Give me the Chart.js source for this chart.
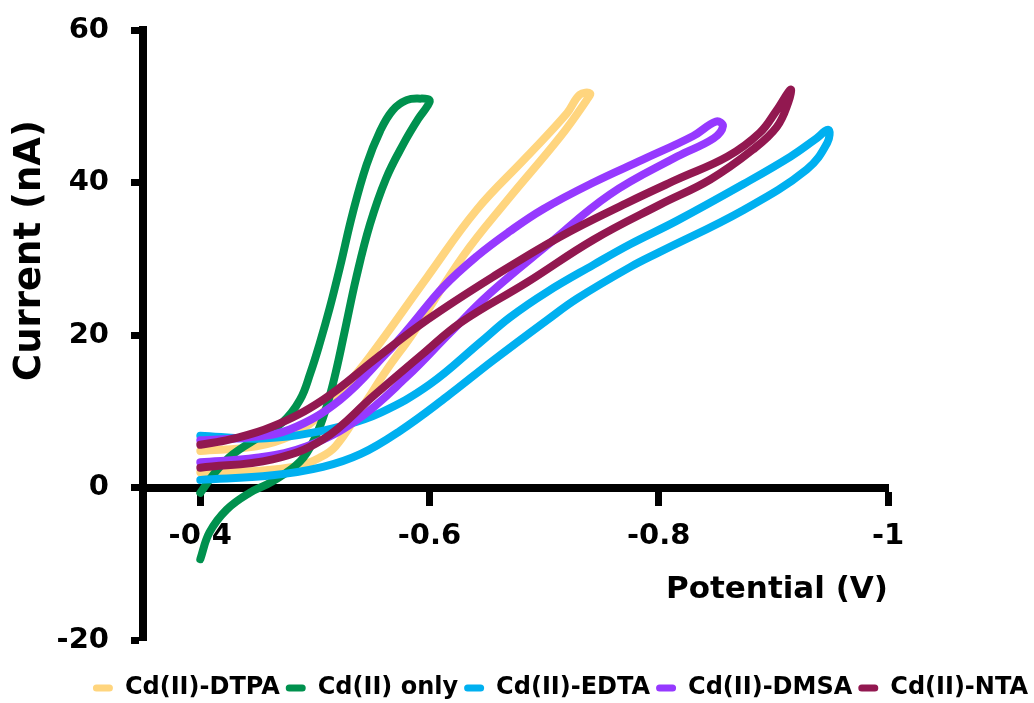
<!DOCTYPE html>
<html>
<head>
<meta charset="utf-8">
<script src="https://cdn.jsdelivr.net/npm/chart.js@4.4.0/dist/chart.umd.min.js"></script>
<style>
  html, body { margin: 0; padding: 0; background: #fff; }
  #wrap { width: 1034px; height: 703px; }
</style>
</head>
<body>
<div id="wrap"><canvas id="cv"></canvas></div>
<script>
// Cyclic voltammograms, potential in V, current in nA
const seriesNames = ['Cd(II)-DTPA', 'Cd(II) only', 'Cd(II)-EDTA', 'Cd(II)-DMSA', 'Cd(II)-NTA'];
const seriesColors = ['#FFD57E', '#00914E', '#00B0F0', '#9639FF', '#921850'];

const dtpaPotential = [-0.400, -0.452, -0.487, -0.504, -0.518, -0.539, -0.563, -0.586, -0.629, -0.668, -0.714, -0.737, -0.740,
                       -0.731, -0.720, -0.685, -0.641, -0.598, -0.548, -0.522, -0.500, -0.478, -0.449, -0.400];
const dtpaCurrent = [2.0, 2.2, 2.9, 3.9, 5.4, 10.0, 15.5, 20.3, 30.3, 37.7, 46.0, 50.8, 51.7,
                     51.5, 49.1, 43.4, 36.4, 27.6, 17.2, 12.4, 8.9, 6.7, 5.4, 4.8];

const onlyPotential = [-0.400, -0.408, -0.423, -0.443, -0.463, -0.487, -0.500, -0.510, -0.518, -0.526, -0.536, -0.548, -0.562,
                       -0.577, -0.590, -0.598, -0.600, -0.592, -0.580, -0.568, -0.557, -0.545, -0.533, -0.522, -0.513,
                       -0.504, -0.496, -0.487, -0.472, -0.449, -0.428, -0.413, -0.400];
const onlyCurrent = [-9.4, -5.9, -2.9, -0.7, 0.8, 3.4, 6.5, 10.5, 15.0, 20.5, 27.5, 34.5, 40.5,
                     45.0, 48.3, 50.0, 50.8, 51.0, 50.8, 49.5, 46.8, 42.3, 36.0, 29.0, 23.6,
                     18.8, 15.0, 11.5, 8.6, 6.4, 4.3, 2.0, -0.7];

const edtaPotential = [-0.400, -0.463, -0.507, -0.540, -0.574, -0.615, -0.655, -0.703, -0.729, -0.775, -0.801, -0.874,
                       -0.929, -0.947, -0.948, -0.936, -0.915, -0.874, -0.816, -0.775, -0.743, -0.703, -0.670, -0.644,
                       -0.600, -0.557, -0.522, -0.487, -0.449, -0.400];
const edtaCurrent = [1.0, 1.6, 2.7, 4.4, 7.4, 11.9, 16.6, 22.0, 24.8, 28.9, 30.9, 36.4,
                     41.7, 45.2, 46.9, 45.6, 43.4, 39.8, 35.0, 31.9, 29.2, 25.7, 22.3, 19.0,
                     13.5, 9.8, 8.0, 6.9, 6.4, 6.8];

const dmsaPotential = [-0.400, -0.449, -0.493, -0.537, -0.580, -0.618, -0.653, -0.703, -0.757, -0.816, -0.848, -0.856,
                       -0.850, -0.830, -0.786, -0.743, -0.699, -0.670, -0.641, -0.612, -0.583, -0.563, -0.522,
                       -0.478, -0.443, -0.400];
const dmsaCurrent = [3.3, 3.9, 5.4, 8.9, 14.5, 20.3, 25.5, 31.8, 38.4, 43.4, 45.8, 47.4,
                     48.0, 46.1, 43.0, 40.0, 36.5, 33.6, 30.3, 26.3, 21.1, 17.7, 11.5,
                     7.6, 6.6, 6.2];

const ntaPotential = [-0.400, -0.463, -0.507, -0.551, -0.594, -0.627, -0.685, -0.743, -0.801, -0.845, -0.882, -0.903, -0.913,
                      -0.915, -0.903, -0.888, -0.860, -0.816, -0.772, -0.714, -0.655, -0.598, -0.554, -0.507, -0.463,
                      -0.426, -0.400];
const ntaCurrent = [2.6, 3.7, 6.3, 12.0, 17.5, 21.6, 26.9, 32.5, 37.1, 40.4, 44.3, 47.3, 50.5,
                    52.2, 49.5, 46.5, 43.4, 40.4, 37.3, 32.9, 27.6, 22.0, 17.0, 11.5, 8.0,
                    6.3, 5.6];

const xTickValues = [-0.4, -0.6, -0.8, -1];
const yTickValues = [-20, 0, 20, 40, 60];

const potentials = [dtpaPotential, onlyPotential, edtaPotential, dmsaPotential, ntaPotential];
const currents = [dtpaCurrent, onlyCurrent, edtaCurrent, dmsaCurrent, ntaCurrent];

function toPoints(xs, ys) {
    return xs.map((x, i) => ({ x: x, y: ys[i] }));
}

Chart.defaults.font.family = "'DejaVu Sans', sans-serif";
Chart.defaults.font.weight = 'bold';
Chart.defaults.color = '#000';

const datasets = seriesNames.map((name, i) => ({
    label: name,
    data: toPoints(potentials[i], currents[i]),
    showLine: true,
    borderColor: seriesColors[i],
    backgroundColor: seriesColors[i],
    borderWidth: 8,
    borderCapStyle: 'round',
    borderJoinStyle: 'round',
    pointRadius: 0,
    tension: 0.4,
    order: seriesNames.length - i  // last series drawn on top
}));

new Chart(document.getElementById('cv'), {
    type: 'scatter',
    data: { datasets },
    options: {
        responsive: true,
        maintainAspectRatio: false,
        animation: false,
        layout: { padding: { top: 30, right: 0, bottom: -7, left: 0 } },
        plugins: {
            tooltip: { enabled: false },
            legend: {
                position: 'bottom',
                align: 'end',
                labels: {
                    font: { size: 24, weight: 'bold' },
                    boxWidth: 20,
                    boxHeight: 7,
                    padding: 6,
                    generateLabels: chart => Chart.defaults.plugins.legend.labels.generateLabels(chart)
                        .map(item => Object.assign(item, { lineWidth: 0, borderRadius: 3.5 }))
                        .sort((a, b) => a.datasetIndex - b.datasetIndex)
                }
            }
        },
        scales: {
            x: {
                type: 'linear',
                reverse: true,
                min: -1,
                max: -0.35,
                position: { y: 0 },
                afterBuildTicks: s => { s.ticks = xTickValues.map(v => ({ value: v })); },
                grid: { drawOnChartArea: false, drawTicks: true, tickLength: 14, tickWidth: 7, tickColor: '#000' },
                border: { display: true, color: '#000', width: 8 },
                ticks: { font: { size: 29 }, padding: 18, maxRotation: 0, callback: v => String(v) },
                title: { display: false }
            },
            // bottom strip that carries the x title and keeps the legend below the plot
            xTitle: {
                type: 'linear',
                axis: 'x',
                position: 'bottom',
                display: true,
                afterFit: s => { s.height = 30; },
                grid: { display: false, drawTicks: false },
                border: { display: false },
                ticks: { display: false },
                title: {
                    display: true,
                    text: 'Potential (V)',
                    align: 'end',
                    font: { size: 31, weight: 'bold' },
                    padding: { top: 0, bottom: 61 }
                }
            },
            y: {
                type: 'linear',
                position: 'left',
                min: -20,
                max: 60,
                afterBuildTicks: s => { s.ticks = yTickValues.map(v => ({ value: v })); },
                afterFit: s => { s.width = 143; s.paddingTop = 0; s.paddingBottom = 0; },
                grid: { drawOnChartArea: false, drawTicks: true, tickLength: 12, tickWidth: 7, tickColor: '#000' },
                border: { display: true, color: '#000', width: 8 },
                ticks: { font: { size: 29 }, padding: 22, callback: v => String(v) },
                title: {
                    display: true,
                    text: 'Current (nA)       ',
                    align: 'end',
                    font: { size: 37, weight: 'bold' },
                    padding: { top: 8, bottom: 0 }
                }
            },
            // empty axis that keeps the plot clear of the right margin
            yRight: {
                type: 'linear',
                position: 'right',
                display: true,
                afterFit: s => { s.width = 146; },
                grid: { display: false, drawTicks: false },
                border: { display: false },
                ticks: { display: false }
            }
        }
    }
});
</script>
</body>
</html>
